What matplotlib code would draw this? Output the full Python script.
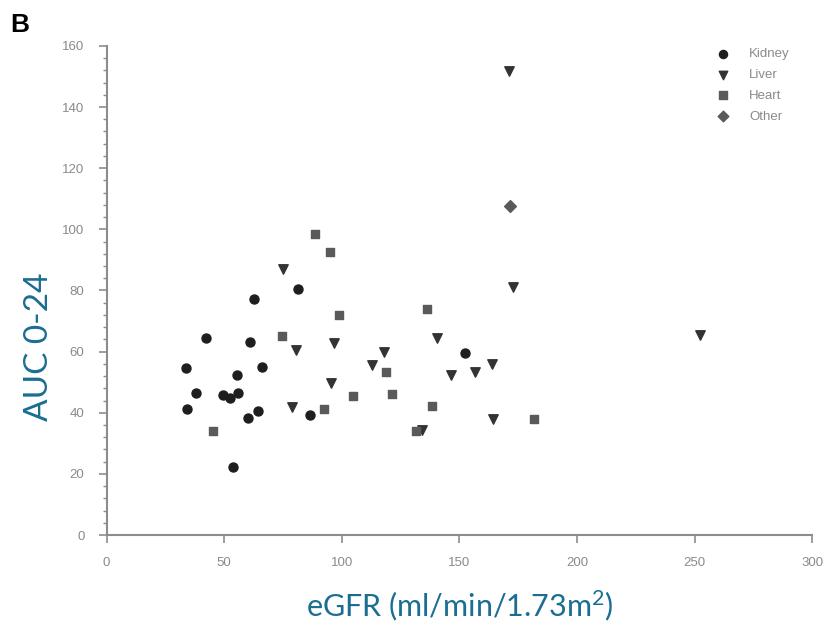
import matplotlib
matplotlib.use('Agg')
import matplotlib.pyplot as plt
from matplotlib.ticker import MultipleLocator

# data (eGFR, AUC 0-24)
kidney_x = [81.5, 62.6, 42.4, 60.9, 33.9, 66.2, 55.6, 38.1, 49.4, 52.3, 55.9, 34.3, 60.2, 64.4, 86.5, 53.8, 152.2]
kidney_y = [80.5, 77.1, 64.6, 63.3, 54.5, 55.1, 52.4, 46.6, 45.8, 44.7, 46.6, 41.1, 38.2, 40.6, 39.3, 22.2, 59.5]

liver_x = [75.1, 80.4, 96.7, 117.8, 112.8, 95.4, 78.7, 172.6, 140.5, 146.2, 156.6, 164.0, 164.3, 134.2, 171.1, 252.2]
liver_y = [86.9, 60.5, 62.7, 60.0, 55.6, 49.6, 42.0, 81.2, 64.4, 52.4, 53.4, 56.0, 37.9, 34.4, 151.9, 65.4]

heart_x = [88.6, 95.0, 98.6, 74.7, 118.9, 104.7, 121.3, 92.6, 45.2, 136.3, 138.4, 181.8, 131.5]
heart_y = [98.5, 92.7, 72.0, 65.1, 53.4, 45.5, 46.0, 41.1, 34.0, 73.9, 42.3, 37.9, 34.0]

other_x = [171.4]
other_y = [107.7]

x_ticks = [0, 50, 100, 150, 200, 250, 300]
y_ticks = [0, 20, 40, 60, 80, 100, 120, 140, 160]

AXIS_GRAY = '#8c8c8c'
LABEL_BLUE = '#1a6e92'

plt.rcParams['font.family'] = ['Liberation Sans', 'DejaVu Sans']
plt.rcParams['mathtext.default'] = 'regular'

fig = plt.figure(figsize=(8.4, 6.37), dpi=100)
ax = fig.add_axes([0.127, 0.160, 0.840, 0.768])

ax.scatter(kidney_x, kidney_y, marker='o', s=42, color='#1e1e1e', label='Kidney', zorder=3)
ax.scatter(liver_x, liver_y, marker='v', s=46, color='#333333', label='Liver', zorder=3)
ax.scatter(heart_x, heart_y, marker='s', s=40, color='#5a5a5a', label='Heart', zorder=3)
ax.scatter(other_x, other_y, marker='D', s=36, color='#5a5a5a', label='Other', zorder=3)

ax.set_xlim(0, 300)
ax.set_ylim(0, 160)
ax.set_xticks(x_ticks)
ax.set_yticks(y_ticks)
ax.yaxis.set_minor_locator(MultipleLocator(4))

for side in ['top', 'right']:
    ax.spines[side].set_visible(False)
for side in ['left', 'bottom']:
    ax.spines[side].set_color(AXIS_GRAY)
    ax.spines[side].set_linewidth(1.5)

ax.tick_params(axis='both', which='major', colors=AXIS_GRAY, labelcolor='#8a8a8a',
               labelsize=9.5, length=6, width=1.2, pad=10)
ax.tick_params(axis='y', which='minor', colors=AXIS_GRAY, length=3, width=1)

ax.set_xlabel('eGFR (ml/min/1.73m$^{2}$)', fontsize=22, color=LABEL_BLUE,
              family=['Lato', 'DejaVu Sans'], labelpad=14)
ax.set_ylabel('AUC 0-24', fontsize=24, color=LABEL_BLUE,
              family=['Lato', 'DejaVu Sans'])
ax.yaxis.set_label_coords(-0.074, 0.385)

leg = ax.legend(loc='upper right', bbox_to_anchor=(0.985, 1.02), frameon=False,
                fontsize=9.5, handletextpad=1.0, labelspacing=0.65, markerscale=0.9)
for t in leg.get_texts():
    t.set_color('#8a8a8a')

fig.text(0.012, 0.950, 'B', fontsize=19, fontweight='bold', color='black')

fig.savefig('out.png', dpi=100)
